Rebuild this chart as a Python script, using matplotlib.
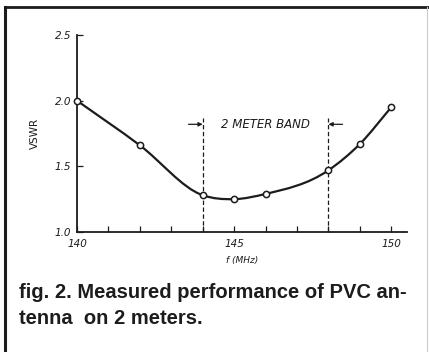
import matplotlib.pyplot as plt
from matplotlib.path import Path
from matplotlib.patches import PathPatch
from matplotlib.lines import Line2D
import numpy as np

freq = [140, 142, 144, 145, 146, 148, 149, 150]
vswr = [2.00, 1.66, 1.28, 1.25, 1.29, 1.47, 1.67, 1.95]
band_edges = [144, 148]
x_ticks = [140, 145, 150]
y_ticks = [1.0, 1.5, 2.0, 2.5]
ink = '#1c1c1c'

plt.rcParams['font.family'] = ['Liberation Sans', 'DejaVu Sans']

fig = plt.figure(figsize=(4.29, 3.52), dpi=100)
ax = fig.add_axes([77 / 429, 1 - 232 / 352, 330 / 429, 197 / 352])
ax.set_xlim(140, 150.5)
ax.set_ylim(1.0, 2.5)

# smooth curve through the measured points (cubic Hermite as Bezier segments)
x = np.array(freq, float)
y = np.array(vswr, float)
m = np.gradient(y, x)
verts = [(x[0], y[0])]
codes = [Path.MOVETO]
for i in range(len(x) - 1):
    h = x[i + 1] - x[i]
    verts += [(x[i] + h / 3, y[i] + m[i] * h / 3),
              (x[i + 1] - h / 3, y[i + 1] - m[i + 1] * h / 3),
              (x[i + 1], y[i + 1])]
    codes += [Path.CURVE4] * 3
ax.add_patch(PathPatch(Path(verts, codes), fill=False, lw=1.6,
                       edgecolor=ink, zorder=3))
ax.plot(freq, vswr, 'o', ms=4.5, mfc='white', mec=ink, mew=1.1,
        zorder=4, clip_on=False)

for xb in band_edges:
    ax.plot([xb, xb], [1.0, 1.87], ls=(0, (3.5, 2)), lw=0.9, color=ink)
ax.annotate('', xy=(band_edges[0], 1.82), xytext=(band_edges[0] - 0.45, 1.82),
            arrowprops=dict(arrowstyle='-|>', lw=0.9, color=ink,
                            shrinkA=0, shrinkB=0, mutation_scale=6))
ax.annotate('', xy=(band_edges[1], 1.82), xytext=(band_edges[1] + 0.45, 1.82),
            arrowprops=dict(arrowstyle='-|>', lw=0.9, color=ink,
                            shrinkA=0, shrinkB=0, mutation_scale=6))
ax.text(146.0, 1.82, '2 METER BAND', ha='center', va='center',
        fontsize=8.5, style='italic', color=ink, fontfamily='DejaVu Sans')

for s in ['top', 'right']:
    ax.spines[s].set_visible(False)
for s in ['left', 'bottom']:
    ax.spines[s].set_linewidth(1.3)
    ax.spines[s].set_color(ink)

ax.set_xticks(x_ticks)
ax.set_xticks(range(140, 151), minor=True)
ax.set_yticks(y_ticks)
ax.set_yticklabels(['1.0', '1.5', '2.0', '2.5'])
ax.tick_params(axis='both', which='both', direction='in', color=ink,
               width=0.9, length=4)
ax.tick_params(axis='both', labelsize=7.5, labelcolor=ink)
ax.tick_params(axis='x', pad=5)
ax.tick_params(axis='y', pad=4)
for lab in ax.get_xticklabels() + ax.get_yticklabels():
    lab.set_fontstyle('italic')
    lab.set_fontfamily('DejaVu Sans')

ax.set_xlabel('f (MHz)', fontsize=6.5, style='italic', color=ink,
              fontfamily='DejaVu Sans', labelpad=5)
ax.set_ylabel('VSWR', fontsize=7.5, color=ink, fontfamily='DejaVu Sans',
              labelpad=11)

fig.text(19 / 429, 1 - 293 / 352, 'fig. 2. Measured performance of PVC an-',
         fontsize=14.5, fontweight='bold', color=ink, va='center', ha='left')
fig.text(19 / 429, 1 - 319 / 352, 'tenna  on 2 meters.',
         fontsize=14.5, fontweight='bold', color=ink, va='center', ha='left')

# page frame
fig.add_artist(Line2D([5 / 429, 5 / 429], [0, 1 - 6.5 / 352], lw=2.2,
                      color=ink, transform=fig.transFigure))
fig.add_artist(Line2D([5 / 429, 1], [1 - 6.5 / 352, 1 - 6.5 / 352], lw=2.0,
                      color=ink, transform=fig.transFigure))
fig.add_artist(Line2D([427 / 429, 427 / 429], [0, 1 - 6.5 / 352], lw=0.8,
                      color='#cccccc', transform=fig.transFigure))

fig.savefig('out.png', dpi=100)
